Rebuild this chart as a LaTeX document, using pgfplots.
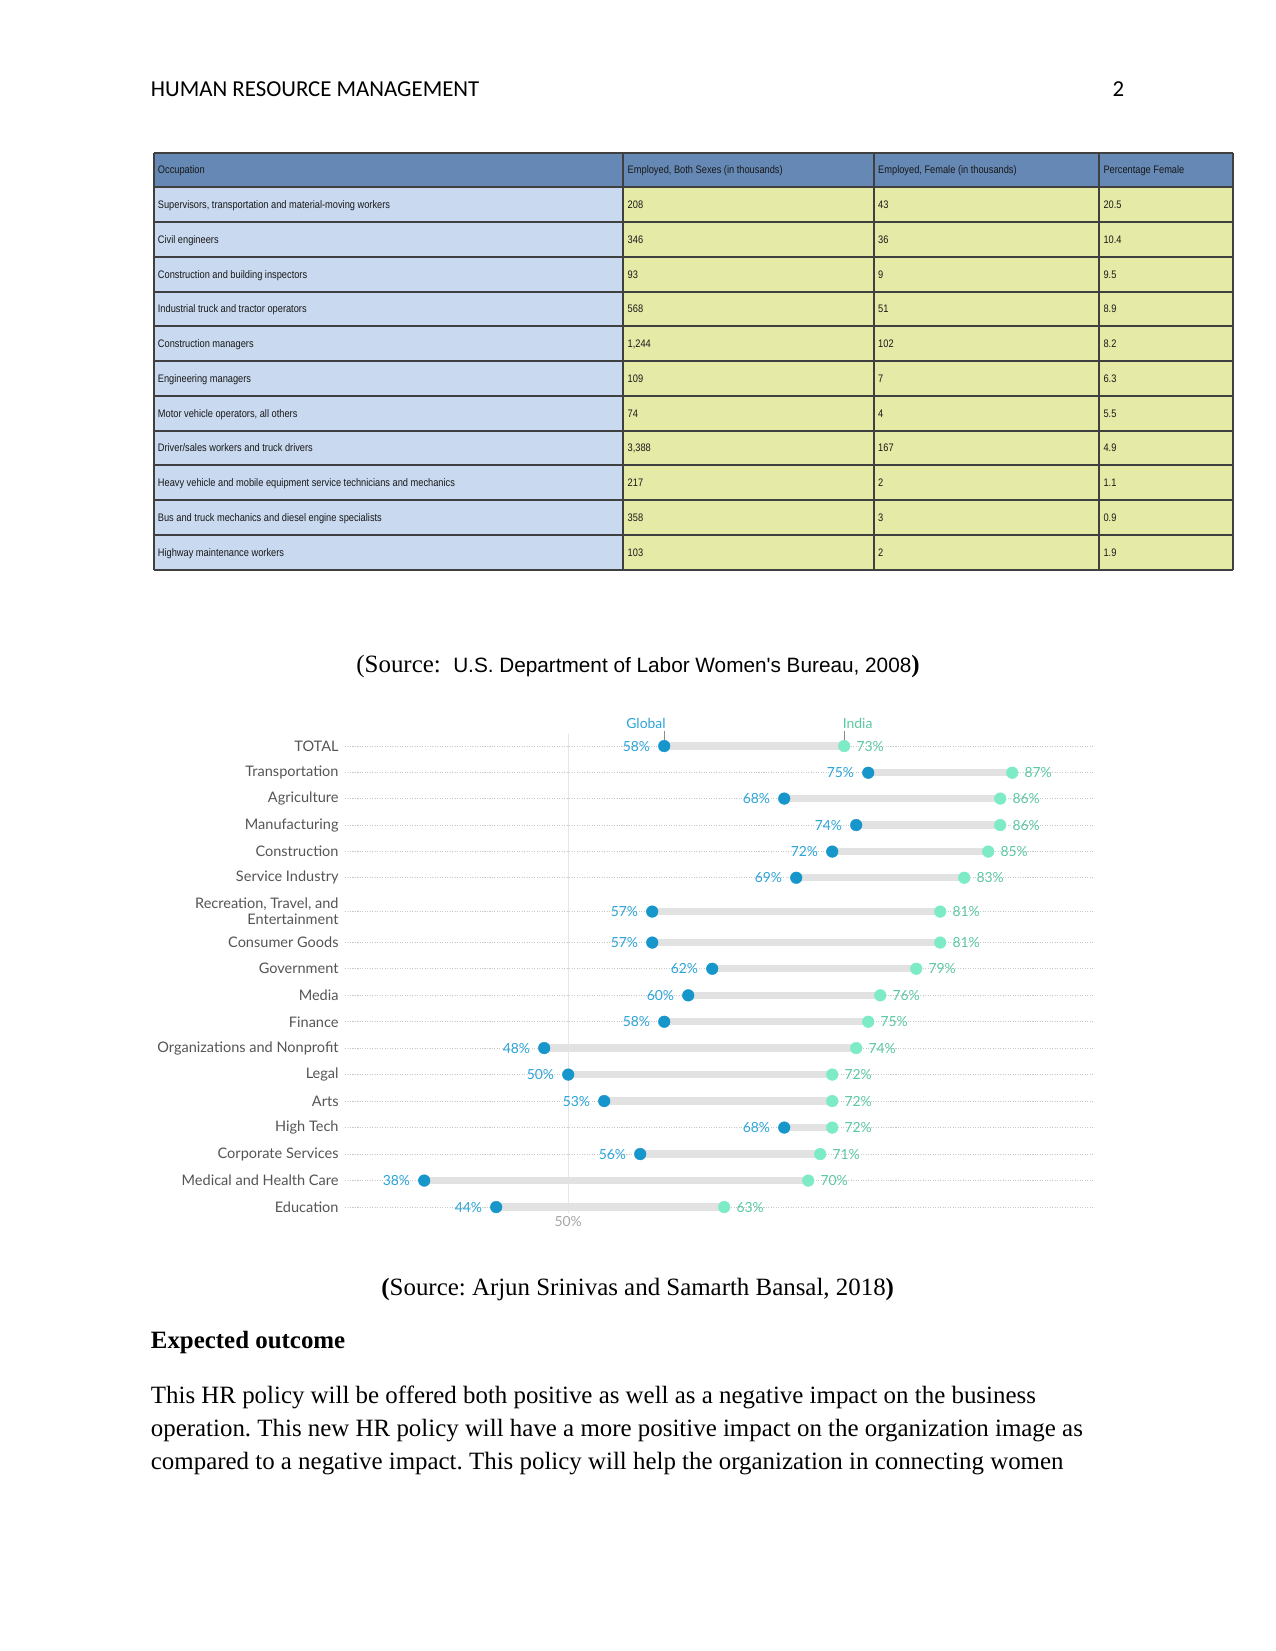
\documentclass[border=0pt]{standalone}
\usepackage{pgfplots}
\usepackage{pgfplotstable}
\pgfplotsset{compat=1.18}
\usepackage{fontspec}
\setmainfont{Liberation Serif}
\newfontfamily\hdrfont{Carlito}
\newfontfamily\arialfont{Liberation Sans}
\newfontfamily\tblfont[FakeStretch=0.85]{Liberation Sans}
\newfontfamily\chartfont{Lato}

\definecolor{hdrblue}{HTML}{6588B4}
\definecolor{cellblue}{HTML}{C9D9EF}
\definecolor{cellyel}{HTML}{E5EAA6}
\definecolor{tblline}{HTML}{404040}
\definecolor{gblue}{HTML}{1796CB}
\definecolor{gbluetxt}{HTML}{2CA4D9}
\definecolor{igreen}{HTML}{7DEBC6}
\definecolor{igreentxt}{HTML}{5BC8A0}
\definecolor{bargray}{HTML}{E2E2E2}
\definecolor{labgray}{HTML}{555555}
\definecolor{gridh}{HTML}{C8C8C8}
\definecolor{gridv}{HTML}{E6E6E6}

\pgfplotstableread{
y g i
-746 58 73
-772.7 75 87
-798.5 68 86
-825 74 86
-851.5 72 85
-877.7 69 83
-911.5 57 81
-942.5 57 81
-968.7 62 79
-995.3 60 76
-1021.7 58 75
-1048 48 74
-1074.5 50 72
-1101 53 72
-1127.5 68 72
-1154 56 71
-1180.5 38 70
-1207 44 63
}\datatbl

\newcommand{\tfont}{\tblfont\fontsize{5.25}{6}\selectfont}
\newcommand{\cfont}{\chartfont\fontsize{7.0}{7.7}\selectfont}
\newcommand{\pfont}{\chartfont\fontsize{6.7}{7.8}\selectfont}

\begin{document}
\frenchspacing
\begin{tikzpicture}[x=0.48bp,y=-0.48bp]
\path[use as bounding box, fill=white] (0,0) rectangle (1275,1651);

% running header
\node[anchor=base west, inner sep=0, font=\hdrfont\fontsize{11}{13}\selectfont] at (150.5,96.5) {HUMAN RESOURCE MANAGEMENT};
\node[anchor=base east, inner sep=0, font=\hdrfont\fontsize{11}{13}\selectfont] at (1124.5,96.5) {2};

% table
\fill[hdrblue] (153.7,152.7) rectangle (1232.8,187.44);
\fill[cellblue] (153.7,187.44) rectangle (623.3,569.6);
\fill[cellyel] (623.3,187.44) rectangle (1232.8,569.6);
\foreach \i in {0,...,12} {
  \draw[tblline, line width=0.95bp] (153.7,{152.7+34.74*\i}) -- (1232.8,{152.7+34.74*\i});
}
\foreach \xx in {153.7,623.3,873.8,1099.1,1232.8} {
  \draw[tblline, line width=0.95bp] (\xx,152.7) -- (\xx,569.6);
}
\newcommand{\trow}[5]{%
  \pgfmathsetmacro{\yb}{152.7+34.74*#1+17.37+3.8}%
  \node[anchor=base west, inner sep=0, font=\tfont, text=black!90] at (157.5,\yb) {#2};
  \node[anchor=base west, inner sep=0, font=\tfont, text=black!90] at (627.3,\yb) {#3};
  \node[anchor=base west, inner sep=0, font=\tfont, text=black!90] at (877.8,\yb) {#4};
  \node[anchor=base west, inner sep=0, font=\tfont, text=black!90] at (1103.1,\yb) {#5};
}
\trow{0}{Occupation}{Employed, Both Sexes (in thousands)}{Employed, Female (in thousands)}{Percentage Female}
\trow{1}{Supervisors, transportation and material-moving workers}{208}{43}{20.5}
\trow{2}{Civil engineers}{346}{36}{10.4}
\trow{3}{Construction and building inspectors}{93}{9}{9.5}
\trow{4}{Industrial truck and tractor operators}{568}{51}{8.9}
\trow{5}{Construction managers}{1,244}{102}{8.2}
\trow{6}{Engineering managers}{109}{7}{6.3}
\trow{7}{Motor vehicle operators, all others}{74}{4}{5.5}
\trow{8}{Driver/sales workers and truck drivers}{3,388}{167}{4.9}
\trow{9}{Heavy vehicle and mobile equipment service technicians and mechanics}{217}{2}{1.1}
\trow{10}{Bus and truck mechanics and diesel engine specialists}{358}{3}{0.9}
\trow{11}{Highway maintenance workers}{103}{2}{1.9}

% source 1
\node[anchor=base west, inner sep=0, font=\fontsize{12}{14}\selectfont] at (356,672) {(Source:\ \ {\arialfont\fontsize{10}{12}\selectfont U.S. Department of Labor Women's Bureau, 2008}\textbf{)}};

% chart
\begin{axis}[
  at={(165.6bp,-582.24bp)}, anchor=south west,
  x=5.76bp, y=0.48bp,
  xmin=31.4, xmax=93.7, ymin=-1213, ymax=-734,
  clip=false,
  /pgf/number format/assume math mode=true,
  axis line style={draw=none},
  major tick length=0pt,
  tick style={draw=none},
  xtick={50}, xticklabels={50\%},
  ytick={-746,-772.7,-798.5,-825,-851.5,-877.7,-911.5,-942.5,-968.7,-995.3,-1021.7,-1048,-1074.5,-1101,-1127.5,-1154,-1180.5,-1207},
  yticklabels={TOTAL,Transportation,Agriculture,Manufacturing,Construction,Service Industry,{Recreation, Travel, and\\Entertainment},Consumer Goods,Government,Media,Finance,Organizations and Nonprofit,Legal,Arts,High Tech,Corporate Services,Medical and Health Care,Education},
  xmajorgrids, ymajorgrids,
  x grid style={color=gridv, line width=0.5pt},
  y grid style={color=gridh, line width=0.4pt, dash pattern=on 0.5pt off 0.7pt},
  yticklabel style={font=\cfont, text=labgray, align=right, inner sep=0pt, anchor=east, xshift=-2.9bp},
  xticklabel style={font=\pfont, text=black!35, inner sep=0pt, anchor=north, yshift=-1.5bp},
]
\draw[black!45, line width=0.4bp] (axis cs:58,-731) -- (axis cs:58,-741);
\draw[black!45, line width=0.4bp] (axis cs:73,-731) -- (axis cs:73,-741);
\node[anchor=base east, inner sep=0, font=\pfont, text=gbluetxt] at (axis cs:58.15,-728) {Global};
\node[anchor=base west, inner sep=0, font=\pfont, text=igreentxt] at (axis cs:72.85,-728) {India};

\addplot[only marks, mark=none,
  error bars/.cd, x dir=plus, x explicit, error mark=none,
  error bar style={line width=3.5bp, color=bargray}]
  table[x=g, y=y, x error expr=\thisrow{i}-\thisrow{g}] \datatbl;

\addplot[only marks, mark=*, mark size=2.8bp,
  mark options={fill=gblue, draw=gblue, line width=0.2bp},
  point meta=x,
  nodes near coords={\pgfmathprintnumber{\pgfplotspointmeta}\%},
  nodes near coords align={east},
  every node near coord/.append style={anchor=east, inner sep=0pt, xshift=-6.7bp, font=\pfont, text=gbluetxt}]
  table[x=g, y=y] \datatbl;

\addplot[only marks, mark=*, mark size=2.8bp,
  mark options={fill=igreen, draw=igreen, line width=0.2bp},
  point meta=x,
  nodes near coords={\pgfmathprintnumber{\pgfplotspointmeta}\%},
  nodes near coords align={west},
  every node near coord/.append style={anchor=west, inner sep=0pt, xshift=5.8bp, font=\pfont, text=igreentxt}]
  table[x=i, y=y] \datatbl;
\end{axis}

% source 2
\node[anchor=base west, inner sep=0, font=\fontsize{12}{14}\selectfont] at (381,1295) {\textbf{(}Source: Arjun Srinivas and Samarth Bansal, 2018\textbf{)}};

% body text
\node[anchor=base west, inner sep=0, font=\fontsize{12}{14}\selectfont] at (150.5,1348.6) {\textbf{Expected outcome}};
\node[anchor=base west, inner sep=0, font=\fontsize{12}{14}\selectfont] at (150.5,1403.4) {This HR policy will be offered both positive as well as a negative impact on the business};
\node[anchor=base west, inner sep=0, font=\fontsize{12}{14}\selectfont] at (150.5,1436.5) {operation. This new HR policy will have a more positive impact on the organization image as};
\node[anchor=base west, inner sep=0, font=\fontsize{12}{14}\selectfont] at (150.5,1469.7) {compared to a negative impact. This policy will help the organization in connecting women};
\end{tikzpicture}
\end{document}
